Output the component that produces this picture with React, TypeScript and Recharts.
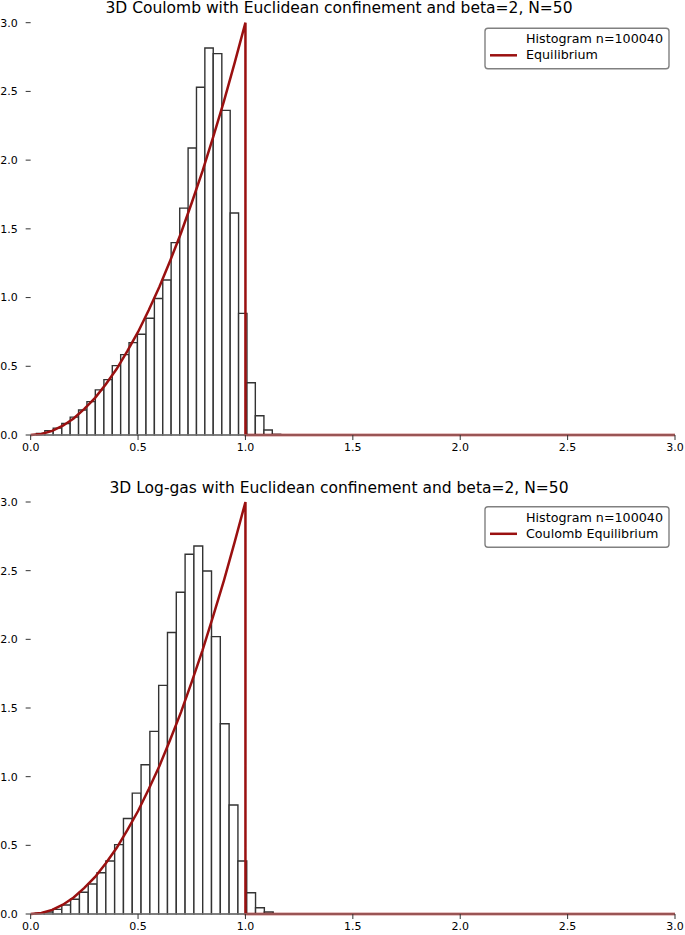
import { ComposedChart, Line, XAxis, YAxis, ReferenceArea } from "recharts";

const axisTicks = [0, 0.5, 1, 1.5, 2, 2.5, 3];

// top panel: coulomb gas histogram (bin edges + density)
const coulombEdges = [
  0.027, 0.066, 0.105, 0.145, 0.184, 0.223, 0.262, 0.301, 0.341, 0.38,
  0.419, 0.458, 0.497, 0.537, 0.576, 0.615, 0.654, 0.694, 0.733, 0.772,
  0.811, 0.85, 0.89, 0.929, 0.968, 1.007, 1.046, 1.086, 1.125, 1.164,
];
const coulombDensity = [
  0.012, 0.032, 0.05, 0.084, 0.13, 0.182, 0.243, 0.328, 0.403, 0.505,
  0.585, 0.672, 0.733, 0.85, 0.993, 1.128, 1.4, 1.651, 2.088, 2.53,
  2.816, 2.775, 2.362, 1.615, 0.885, 0.38, 0.14, 0.036, 0.005,
];

// bottom panel: log-gas histogram
const logGasEdges = [
  0.022, 0.063, 0.104, 0.145, 0.186, 0.227, 0.268, 0.309, 0.35, 0.391,
  0.432, 0.473, 0.514, 0.555, 0.596, 0.637, 0.678, 0.719, 0.76, 0.801,
  0.842, 0.883, 0.924, 0.965, 1.006, 1.047, 1.088, 1.129,
];
const logGasDensity = [
  0.005, 0.015, 0.034, 0.066, 0.107, 0.158, 0.218, 0.3, 0.386, 0.505,
  0.695, 0.88, 1.087, 1.33, 1.665, 2.05, 2.343, 2.62, 2.68, 2.498,
  2.02, 1.385, 0.794, 0.386, 0.155, 0.045, 0.015,
];

// equilibrium measure (same curve in both panels)
const eqX = [
  0, 0.05, 0.1, 0.15, 0.2, 0.25, 0.3, 0.35, 0.4, 0.45, 0.5, 0.55, 0.6,
  0.65, 0.7, 0.75, 0.8, 0.85, 0.9, 0.95, 1.0, 1.0, 3.0,
];
const eqY = [
  0, 0.0075, 0.03, 0.0675, 0.12, 0.19, 0.27, 0.37, 0.48, 0.61, 0.75, 0.91,
  1.08, 1.27, 1.47, 1.69, 1.92, 2.17, 2.43, 2.71, 3.0, 0, 0,
];

const eqData = eqX.map((x, i) => ({ x, y: eqY[i] }));

const RED = "#9a1010";
const FONT = "DejaVu Sans, sans-serif";
const tickStyle = { fontFamily: FONT, fontSize: 11, fill: "#000" };

function Panel(props: {
  top: number;
  height: number;
  margin: any;
  xAxisHeight: number;
  edges: number[];
  density: number[];
}) {
  const { top, height, margin, xAxisHeight, edges, density } = props;
  return (
    <div style={{ position: "absolute", left: 0, top }}>
      <ComposedChart width={685} height={height} margin={margin} data={eqData}>
        <XAxis
          dataKey="x"
          type="number"
          domain={[0, 3]}
          ticks={axisTicks}
          tickFormatter={(v: number) => v.toFixed(1)}
          height={xAxisHeight}
          tick={tickStyle}
          tickSize={5}
          tickMargin={3}
          axisLine={{ stroke: "#999" }}
          tickLine={{ stroke: "#333" }}
        />
        <YAxis
          type="number"
          domain={[0, 3]}
          ticks={axisTicks}
          tickFormatter={(v: number) => v.toFixed(1)}
          width={30}
          tick={tickStyle}
          tickSize={5}
          tickMargin={8}
          axisLine={false}
          tickLine={{ stroke: "#333" }}
        />
        {density.map((h, i) => (
          <ReferenceArea
            key={i}
            x1={edges[i]}
            x2={edges[i + 1]}
            y1={0}
            y2={h}
            fill="#fff"
            fillOpacity={1}
            stroke="#333"
            strokeWidth={1.4}
            ifOverflow="visible"
          />
        ))}
        <Line
          dataKey="y"
          type="linear"
          stroke={RED}
          strokeWidth={2.5}
          dot={false}
          activeDot={false}
          isAnimationActive={false}
        />
      </ComposedChart>
    </div>
  );
}

function LegendBox(props: { y: number; label: string }) {
  const { y, label } = props;
  return (
    <g>
      <rect x={485} y={y} width={184} height={40.5} rx={3} fill="#fff" stroke="#808080" strokeWidth={1.4} />
      <text x={526} y={y + 14.7} fontFamily={FONT} fontSize={12.7} fill="#000">
        Histogram n=100040
      </text>
      <line x1={490} x2={517} y1={y + 27} y2={y + 27} stroke={RED} strokeWidth={2.5} />
      <text x={526} y={y + 31} fontFamily={FONT} fontSize={12.7} fill="#000">
        {label}
      </text>
    </g>
  );
}

export default function App() {
  return (
    <div style={{ position: "absolute", left: 0, top: 0, width: 685, height: 935, background: "#fff" }}>
      <Panel
        top={0}
        height={480}
        margin={{ top: 22.7, right: 10, bottom: 15, left: 0.67 }}
        xAxisHeight={30}
        edges={coulombEdges}
        density={coulombDensity}
      />
      <Panel
        top={480}
        height={455}
        margin={{ top: 22, right: 10, bottom: 1, left: 0.67 }}
        xAxisHeight={20}
        edges={logGasEdges}
        density={logGasDensity}
      />
      <svg
        width={685}
        height={935}
        style={{ position: "absolute", left: 0, top: 0, pointerEvents: "none" }}
      >
        <text x={339} y={12.5} textAnchor="middle" fontFamily={FONT} fontSize={15.5} fill="#000">
          3D Coulomb with Euclidean confinement and beta=2, N=50
        </text>
        <text x={339} y={492.5} textAnchor="middle" fontFamily={FONT} fontSize={15.5} fill="#000">
          3D Log-gas with Euclidean confinement and beta=2, N=50
        </text>
        <LegendBox y={28.3} label="Equilibrium" />
        <LegendBox y={506.8} label="Coulomb Equilibrium" />
      </svg>
    </div>
  );
}
